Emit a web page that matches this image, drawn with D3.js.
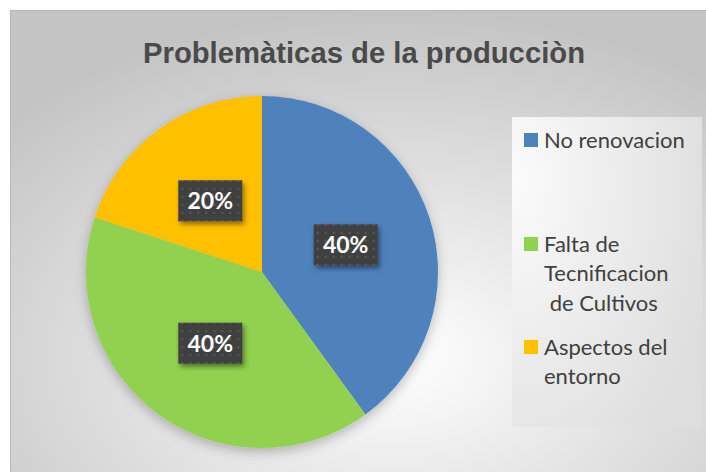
<!DOCTYPE html>
<html>
<head>
<meta charset="utf-8">
<script src="https://cdn.jsdelivr.net/npm/d3@7"></script>
<style>
  html, body { margin: 0; padding: 0; background: #fff; }
  svg { display: block; }
</style>
</head>
<body>
<div id="chart"></div>
<script>
// Chart data
const TITLE = 'Problemàticas de la producciòn';
const categories = ['No renovacion', 'Falta de Tecnificacion de Cultivos', 'Aspectos del entorno'];
const legendLines = [['No renovacion'], ['Falta de', 'Tecnificacion', '\u00a0de Cultivos'], ['Aspectos del', 'entorno']];
const values = [40, 40, 20];
const colors = ['#4F81BD', '#92D050', '#FFC000'];

const W = 706, H = 472;
const FONT_BODY = "Lato, 'Open Sans', sans-serif";

const svg = d3.select('#chart').append('svg')
  .attr('width', W).attr('height', H);

const defs = svg.append('defs');

// background radial gradient
const bg = defs.append('radialGradient').attr('id', 'bgGrad')
  .attr('cx', '0.55').attr('cy', '0.75').attr('r', '0.75');
bg.append('stop').attr('offset', '0').attr('stop-color', '#ffffff');
bg.append('stop').attr('offset', '1').attr('stop-color', '#c4c4c4');

const lg = defs.append('radialGradient').attr('id', 'legGrad')
  .attr('cx', '0').attr('cy', '0.2').attr('r', '1.1');
lg.append('stop').attr('offset', '0').attr('stop-color', '#fbfbfb');
lg.append('stop').attr('offset', '1').attr('stop-color', '#dedede');

// dot pattern for data labels
const pat = defs.append('pattern').attr('id', 'dots')
  .attr('patternUnits', 'userSpaceOnUse').attr('width', 8).attr('height', 8);
pat.append('rect').attr('width', 8).attr('height', 8).attr('fill', '#404040');
pat.append('rect').attr('x', 3).attr('y', 3).attr('width', 2).attr('height', 2).attr('fill', '#5a5a5a');

const shadow = defs.append('filter').attr('id', 'shadow')
  .attr('x', '-20%').attr('y', '-20%').attr('width', '150%').attr('height', '150%');
shadow.append('feDropShadow').attr('dx', 2).attr('dy', 3).attr('stdDeviation', 2.5)
  .attr('flood-color', '#000').attr('flood-opacity', 0.45);

const pieShadow = defs.append('filter').attr('id', 'pieShadow')
  .attr('x', '-20%').attr('y', '-20%').attr('width', '140%').attr('height', '140%');
pieShadow.append('feDropShadow').attr('dx', 0).attr('dy', 4).attr('stdDeviation', 6)
  .attr('flood-color', '#000').attr('flood-opacity', 0.25);

// frame
svg.append('rect')
  .attr('x', 10.5).attr('y', 10.5).attr('width', W - 10).attr('height', H - 10)
  .attr('fill', 'url(#bgGrad)').attr('stroke', '#b8b8b8');

// title (condensed bold)
svg.append('text')
  .attr('x', 143).attr('y', 63)
  .attr('font-family', "'Liberation Sans', Arial, sans-serif")
  .attr('font-weight', 'bold').attr('font-size', 30)
  .attr('textLength', 442).attr('lengthAdjust', 'spacingAndGlyphs')
  .attr('fill', '#4a4a4a')
  .text(TITLE);

// pie
const cx = 262, cy = 272, R = 176;
const pie = d3.pie().sort(null).value(d => d)(values);
const arc = d3.arc().innerRadius(0).outerRadius(R);

const g = svg.append('g').attr('transform', `translate(${cx},${cy})`);
g.append('g').attr('filter', 'url(#pieShadow)')
  .selectAll('path').data(pie).join('path')
  .attr('d', arc)
  .attr('fill', (d, i) => colors[i]);

// data labels
const lbl = g.selectAll('g.lbl').data(pie).join('g')
  .attr('class', 'lbl')
  .attr('transform', d => `translate(${arc.centroid(d)})`);
lbl.append('rect')
  .attr('x', -32).attr('y', -20.5).attr('width', 64).attr('height', 41)
  .attr('fill', 'url(#dots)').attr('filter', 'url(#shadow)');
lbl.append('text')
  .attr('text-anchor', 'middle').attr('y', 8.5)
  .attr('font-family', FONT_BODY).attr('font-weight', 'bold').attr('font-size', 23)
  .attr('fill', '#ffffff')
  .text(d => d3.format('.0%')(d.data / d3.sum(values)));

// legend
svg.append('rect')
  .attr('x', 512).attr('y', 117).attr('width', 190).attr('height', 310)
  .attr('fill', 'url(#legGrad)');

const legendY = [140, 244, 347];
const leg = svg.selectAll('g.leg').data(categories).join('g')
  .attr('class', 'leg')
  .attr('transform', (d, i) => `translate(524,${legendY[i]})`);
leg.append('rect')
  .attr('x', 0).attr('y', -7).attr('width', 14).attr('height', 14)
  .attr('fill', (d, i) => colors[i]);
leg.append('text')
  .attr('x', 20).attr('y', 7.5)
  .attr('font-family', FONT_BODY).attr('font-size', 22)
  .attr('fill', '#404040')
  .selectAll('tspan').data((d, i) => legendLines[i]).join('tspan')
  .attr('x', 20).attr('dy', (d, j) => j === 0 ? 0 : 29.5)
  .text(d => d);
</script>
</body>
</html>
